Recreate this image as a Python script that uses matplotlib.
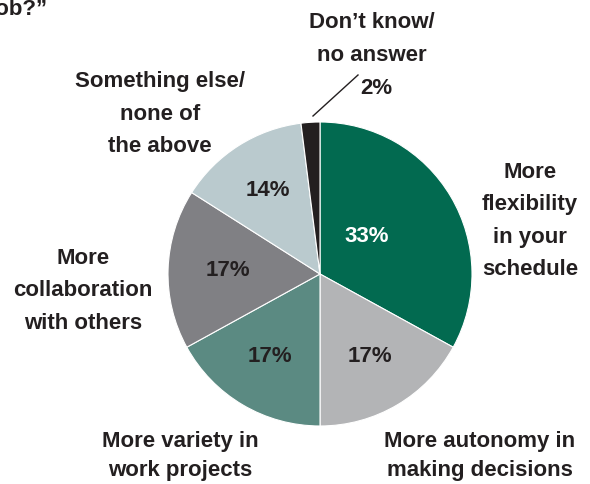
import matplotlib.pyplot as plt

# data
categories = ['More\nflexibility\nin your\nschedule', 'More autonomy in\nmaking decisions',
              'More variety in\nwork projects', 'More\ncollaboration\nwith others',
              'Something else/\nnone of\nthe above', 'Don\u2019t know/\nno answer']
values = [33, 17, 17, 17, 14, 2]
colors = ['#026a50', '#b3b4b6', '#5b8a82', '#808084', '#bacace', '#231f20']
pct_colors = ['white', '#231f20', '#231f20', '#231f20', '#231f20', '#231f20']

W, H = 590, 485
FONT = ['Liberation Sans', 'DejaVu Sans']
FS = 16

fig = plt.figure(figsize=(5.9, 4.85), dpi=100)
ax = fig.add_axes([0, 0, 1, 1])

cx, cy, r = 320, H - 275, 152
ax.pie(values, colors=colors, startangle=90, counterclock=False,
       center=(cx, cy), radius=r, frame=True,
       wedgeprops=dict(edgecolor='white', linewidth=0.8))
ax.set_xlim(0, W)
ax.set_ylim(0, H)
ax.set_aspect('equal')
ax.axis('off')

# percentage labels (pixel positions from top-left)
pct_pos = [(367, 237), (370, 357), (270, 357), (228, 270), (268, 190)]
for v, (x, y), c in zip(values[:5], pct_pos, pct_colors):
    ax.text(x, H - y, f'{v}%', ha='center', va='center', fontsize=FS,
            fontweight='bold', color=c, family=FONT)

# category labels
lab_pos = [(530, 221), (480, 456), (180, 456), (83, 291), (160, 114), (372, 39)]
spacing = [1.7, 1.55, 1.55, 1.7, 1.7, 1.7]
for lab, (x, y), ls in zip(categories, lab_pos, spacing):
    ax.text(x, H - y, lab, ha='center', va='center', fontsize=FS,
            fontweight='bold', color='#231f20', family=FONT, linespacing=ls)

ax.text(376, H - 88, f'{values[5]}%', ha='center', va='center', fontsize=FS,
        fontweight='bold', color='#231f20', family=FONT)
ax.plot([313, 358], [H - 117, H - 76], color='#231f20', lw=1)

# clipped title fragment
ax.text(47, H - 10, 'job?\u201d', ha='right', va='center', fontsize=FS,
        fontweight='bold', color='#231f20', family=FONT)

fig.savefig('out.png', dpi=100)
